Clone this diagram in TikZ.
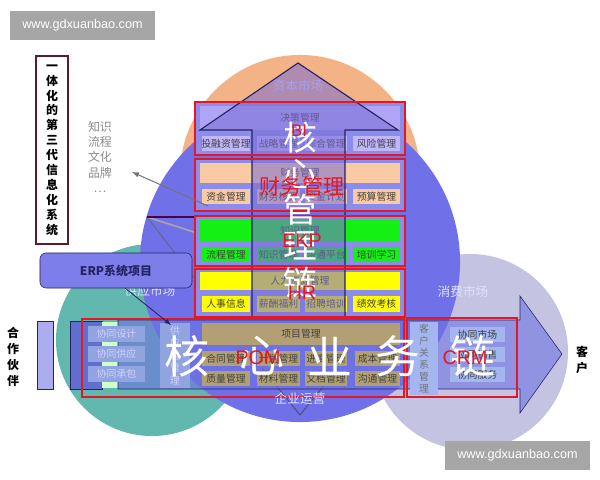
\documentclass[tikz,border=0pt]{standalone}
\usepackage{fontspec}
\setmainfont{Liberation Sans}
\newfontfamily\cjk{Noto Sans CJK SC}
\usetikzlibrary{calc}

\definecolor{caporange}{RGB}{244,178,135}
\definecolor{supteal}{RGB}{98,184,174}
\definecolor{congrey}{RGB}{196,196,226}
\definecolor{coreblue}{RGB}{112,112,232}
\definecolor{navy}{RGB}{36,36,100}
\definecolor{boxred}{RGB}{226,24,36}
\definecolor{maroon}{RGB}{92,26,42}
\definecolor{lavender}{RGB}{176,164,246}
\definecolor{lavlight}{RGB}{192,182,250}
\definecolor{peach}{RGB}{250,202,162}
\definecolor{ekpgreen}{RGB}{20,240,20}
\definecolor{hryellow}{RGB}{255,255,0}
\definecolor{pomtan}{RGB}{178,160,116}
\definecolor{layerbg}{RGB}{140,140,236}
\definecolor{shaft}{RGB}{120,108,214}
\definecolor{coopblue}{RGB}{146,164,224}
\definecolor{crmlight}{RGB}{164,182,240}
\definecolor{barlav}{RGB}{172,172,240}
\definecolor{markgrey}{RGB}{166,166,166}

\tikzset{
  celltext/.style={font=\cjk\fontsize{7}{8}\selectfont, text=black!75, inner sep=0pt},
  redlayer/.style={draw=boxred, line width=1.8pt},
  bigchar/.style={font=\cjk\fontsize{32}{32}\selectfont, text=white, inner sep=0pt},
  redlabel/.style={font=\fontsize{14}{14}\selectfont, text=boxred, inner sep=0pt},
  market/.style={font=\cjk\fontsize{9}{9}\selectfont, text=white!88!blue, inner sep=0pt},
  vstack/.style={align=center, inner sep=0pt},
}

% filled box with its label in the middle
\newcommand{\cellbox}[7]{%
  \fill[#6] (#2,#3) rectangle (#4,#5);
  \node[celltext] (#1) at ({(#2+#4)/2},{(#3+#5)/2}) {#7};}

\begin{document}
\begin{tikzpicture}[x=0.025cm, y=-0.025cm]
\useasboundingbox (0,0) rectangle (600,480);
\fill[white] (0,0) rectangle (600,480);

% markets
\fill[caporange] (300,175) circle[radius=3cm];
\fill[supteal] (152,340) circle[radius=2.4cm];
\fill[congrey] (470,352) circle[radius=2.45cm];
\fill[coreblue] (300,262) circle[radius=4cm];

\coordinate (hub) at (147,217);
\draw[navy!70, line width=0.8pt] (hub) -- (205,292);
\draw[black!35, line width=1.2pt] (hub) -- (250,250);
\draw[violet!60!black, line width=1pt] (hub) -- (200,217);
\coordinate (base) at (300,415);
\draw[navy!80, line width=0.8pt] (base) -- (262,368) (base) -- (338,368);

\node[market] (capital) at (298,86) {资本市场};
\node[market] (supply) at (150,291) {供应市场};
\node[market] (consume) at (463,292) {消费市场};

% partners and value chain
\draw[navy, fill=barlav] (37,321) rectangle (53,389);
\draw[navy, fill={rgb,255:red,98;green,110;blue,205}] (70,321) rectangle (102,389);
\fill[green!20] (102,322) rectangle (118,388);
\filldraw[navy, fill={rgb,255:red,110;green,115;blue,225}, fill opacity=0.6]
  (118,320) -- (520,320) -- (520,296) -- (562,354) -- (520,413) -- (520,389) -- (118,389) -- cycle;

\begin{scope}[celltext/.append style={text=white!82!blue}]
\cellbox{coop1}{88}{326}{145}{342}{coopblue}{协同设计}
\cellbox{coop2}{88}{346}{145}{362}{coopblue}{协同供应}
\cellbox{coop3}{88}{366}{145}{382}{coopblue}{协同承包}
\cellbox{scm}{160}{323}{190}{388}{coopblue}{}
\node[vstack, font=\cjk\fontsize{7}{8.9}\selectfont, text=white!82!blue] (scmtext) at (scm) {供\\应\\链\\管\\理};
\cellbox{crmside}{410}{322}{438}{395}{crmlight}{}
\node[vstack, font=\cjk\fontsize{7}{8.5}\selectfont, text=black!55] (crmtext) at (crmside) {客\\户\\关\\系\\管\\理};
\end{scope}
\cellbox{crm1}{450}{327}{505}{342}{crmlight}{协同市场}
\cellbox{crm2}{450}{347}{505}{362}{crmlight}{协同销售}
\cellbox{crm3}{450}{367}{505}{382}{crmlight}{协同服务}

% POM
\cellbox{project}{202}{323}{400}{345}{pomtan}{项目管理}
\cellbox{pom1}{202}{351}{250}{366}{pomtan}{合同管理}
\cellbox{pom2}{257}{351}{300}{366}{pomtan}{计划管理}
\cellbox{pom3}{305}{351}{347}{366}{pomtan}{进度管理}
\cellbox{pom4}{355}{351}{400}{366}{pomtan}{成本管理}
\cellbox{pom5}{202}{371}{250}{386}{pomtan}{质量管理}
\cellbox{pom6}{257}{371}{300}{386}{pomtan}{材料管理}
\cellbox{pom7}{305}{371}{347}{386}{pomtan}{文档管理}
\cellbox{pom8}{355}{371}{400}{386}{pomtan}{沟通管理}

% BI
\fill[layerbg] (195,102) rectangle (405,155);
\cellbox{bitop}{200}{106}{400}{130}{lavender}{决策管理}
\cellbox{bi1}{202}{136}{250}{151}{lavlight}{投融资管理}
\cellbox{bi2}{257}{136}{300}{151}{lavlight}{战略管理}
\cellbox{bi3}{305}{136}{347}{151}{lavlight}{综合管理}
\cellbox{bi4}{353}{136}{400}{151}{lavlight}{风险管理}
% finance
\fill[layerbg] (195,159) rectangle (405,211);
\cellbox{fintop}{200}{163}{400}{183}{peach}{财务管理}
\cellbox{fin1}{202}{189}{250}{204}{peach}{资金管理}
\cellbox{fin2}{257}{189}{300}{204}{peach}{财务核算}
\cellbox{fin3}{305}{189}{347}{204}{peach}{资金计划}
\cellbox{fin4}{353}{189}{400}{204}{peach}{预算管理}
% EKP
\fill[layerbg] (195,216) rectangle (405,266);
\cellbox{ekptop}{200}{220}{400}{242}{ekpgreen}{知识管理}
\cellbox{ekp1}{202}{247}{250}{262}{ekpgreen}{流程管理}
\cellbox{ekp2}{257}{247}{300}{262}{ekpgreen}{知识管理}
\cellbox{ekp3}{305}{247}{347}{262}{ekpgreen}{沟通平台}
\cellbox{ekp4}{353}{247}{400}{262}{ekpgreen}{培训学习}
% HR
\fill[layerbg] (195,269) rectangle (405,317);
\cellbox{hrtop}{200}{272}{400}{290}{hryellow}{人力资源管理}
\cellbox{hr1}{202}{296}{250}{312}{hryellow}{人事信息}
\cellbox{hr2}{257}{296}{300}{312}{hryellow}{薪酬福利}
\cellbox{hr3}{305}{296}{347}{312}{hryellow}{招聘培训}
\cellbox{hr4}{353}{296}{400}{312}{hryellow}{绩效考核}

% up arrow
\fill[shaft, opacity=0.55] (252,318) -- (252,130) -- (200,130) -- (298,63) -- (398,130) -- (345,130) -- (345,318) -- cycle;
\draw[navy, line width=0.8pt] (252,318) -- (252,130) -- (200,130) -- (298,63) -- (398,130) -- (345,130) -- (345,318);

\draw[redlayer] (195,102) rectangle (405,155);
\draw[redlayer] (195,159) rectangle (405,211);
\draw[redlayer] (195,216) rectangle (405,266);
\draw[redlayer] (195,269) rectangle (405,317);
\draw[redlayer] (82,319) rectangle (404,397);
\draw[redlayer] (407,318) rectangle (517,397);
\node[market] (operate) at (300,399) {企业运营};

% big chars
\foreach \ch [count=\i] in {核,心,管,理,链}
  \node[bigchar, font=\cjk\fontsize{24}{24}\selectfont] (v\i) at (300,{102+36*\i}) {\ch};
\foreach \ch/\x [count=\i] in {核/187,心/262,业/330,务/398,链/473}
  \node[bigchar] (h\i) at (\x,356) {\ch};

\node[redlabel, font=\fontsize{12}{12}\selectfont] (bilabel) at (299,131) {BI};
\node[redlabel, font=\cjk\fontsize{15}{15}\selectfont] (finlabel) at (302,186) {财务管理};
\node[redlabel] (ekplabel) at (302,241) {EKP};
\node[redlabel] (hrlabel) at (302,293) {HR};
\node[redlabel] (pomlabel) at (258,358) {POM};
\node[redlabel] (crmlabel) at (465,358) {CRM};

% left side
\node[draw=maroon, line width=1.2pt, fill=white, minimum width=0.8cm, minimum height=4.7cm, align=center,
  font=\cjk\bfseries\fontsize{8.5}{10.6}\selectfont] (gen3) at (52,150) {一\\体\\化\\的\\第\\三\\代\\信\\息\\化\\系\\统};
\node[vstack, text=black!45, font=\cjk\fontsize{8.5}{11}\selectfont] (know) at (100,157) {知识\\流程\\文化\\品牌\\…};
\coordinate (knowtip) at (132,172);
\draw[black!55, -latex, line width=0.7pt] (208,206) -- (knowtip);
\node[draw=navy, fill=coreblue!90!white, rounded corners=0.15cm, minimum width=3.8cm, minimum height=0.875cm,
  font=\cjk\bfseries\fontsize{8.5}{9}\selectfont, text=navy] (erp) at (116,270.5) {ERP系统项目};
\coordinate (erpfoot) at (125,288);
\coordinate (scmtop) at (171,325);
\draw[navy, -latex, line width=0.6pt] (erpfoot) -- (scmtop);
\node[vstack, font=\cjk\bfseries\fontsize{8.5}{11.3}\selectfont] (partner) at (13,357) {合\\作\\伙\\伴};
\node[vstack, font=\cjk\bfseries\fontsize{8.5}{11}\selectfont] (customer) at (582,360) {客\\户};

% marks
\node[fill=markgrey, text=white, font=\fontsize{9}{9}\selectfont, minimum width=3.625cm, minimum height=0.725cm, inner sep=0pt] (mark1) at (82.5,25.5) {www.gdxuanbao.com};
\node[fill=markgrey, text=white, font=\fontsize{9}{9}\selectfont, minimum width=3.625cm, minimum height=0.725cm, inner sep=0pt] (mark2) at (517.5,455.5) {www.gdxuanbao.com};
\end{tikzpicture}
\end{document}
